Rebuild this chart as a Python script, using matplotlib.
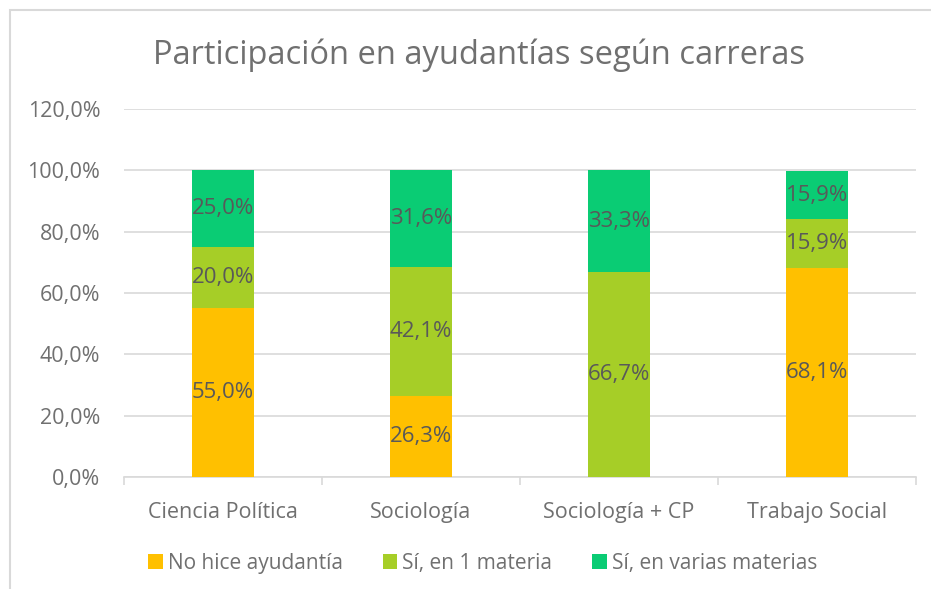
import numpy as np
import matplotlib.pyplot as plt
from matplotlib.patches import Rectangle
from matplotlib.ticker import FuncFormatter

CARRERAS = ["Ciencia Política", "Sociología", "Sociología + CP", "Trabajo Social"]
SERIES = ["No hice ayudantía", "Sí, en 1 materia", "Sí, en varias materias"]
NO_HICE = [55.0, 26.3, 0.0, 68.1]
UNA_MATERIA = [20.0, 42.1, 66.7, 15.9]
VARIAS = [25.0, 31.6, 33.3, 15.9]
COLORS = ["#FFC000", "#A6CE27", "#0ACC74"]

TEXT_GRAY = "#595959"
AXIS_GRAY = "#707070"
GRID_GRAY = "#D9D9D9"

plt.rcParams['font.family'] = ['Open Sans', 'DejaVu Sans']

fig = plt.figure(figsize=(9.31, 5.89), dpi=100)
# chart frame
fig.patches.append(Rectangle((10 / 931, -0.1), 1.0, 1 - 10 / 589 + 0.1,
                             transform=fig.transFigure, fill=False,
                             edgecolor=GRID_GRAY, linewidth=1.5))

ax = fig.add_axes([124 / 931, 1 - 477 / 589, 792 / 931, (477 - 109) / 589])

x = np.arange(len(CARRERAS))
width = 0.31
bottom = np.zeros(len(CARRERAS))
for vals, name, col in zip([NO_HICE, UNA_MATERIA, VARIAS], SERIES, COLORS):
    vals = np.array(vals)
    bars = ax.bar(x, vals, width, bottom=bottom, color=col, label=name, zorder=3)
    for b, v, b0 in zip(bars, vals, bottom):
        if v > 0:
            ax.text(b.get_x() + b.get_width() / 2, b0 + v / 2,
                    f"{v:.1f}%".replace(".", ","), ha="center", va="center",
                    color=TEXT_GRAY, fontsize=16, zorder=4)
    bottom += vals

ax.set_xlim(-0.5, 3.5)
ax.set_ylim(0, 120)
ax.set_yticks(np.arange(0, 121, 20))
ax.yaxis.set_major_formatter(FuncFormatter(lambda v, p: f"{v:.1f}%".replace(".", ",")))
ax.grid(axis="y", color=GRID_GRAY, linewidth=1.2, zorder=0)
ax.set_xticks(x)
ax.set_xticklabels(CARRERAS)
ax.set_xticks(np.arange(-0.5, 3.6, 1), minor=True)
ax.tick_params(axis="x", which="major", length=0, pad=18, labelsize=15.5, labelcolor=AXIS_GRAY)
ax.tick_params(axis="x", which="minor", length=6, color=GRID_GRAY, width=1.2)
ax.tick_params(axis="y", length=0, pad=17, labelsize=15.5, labelcolor=AXIS_GRAY)
for s in ["top", "right", "left"]:
    ax.spines[s].set_visible(False)
ax.spines["bottom"].set_color(GRID_GRAY)
ax.spines["bottom"].set_linewidth(1.2)

fig.text(479 / 931, 1 - 55 / 589, "Participación en ayudantías según carreras",
         ha="center", va="center", color=AXIS_GRAY, fontsize=23.5)

ax.legend(loc="center", bbox_to_anchor=(0.453, (477 - 563) / (477 - 109)), ncol=3,
          frameon=False, fontsize=15, labelcolor=AXIS_GRAY, handlelength=0.7,
          handleheight=0.7, handletextpad=0.25, columnspacing=1.9)

plt.savefig("out.png", dpi=100)
